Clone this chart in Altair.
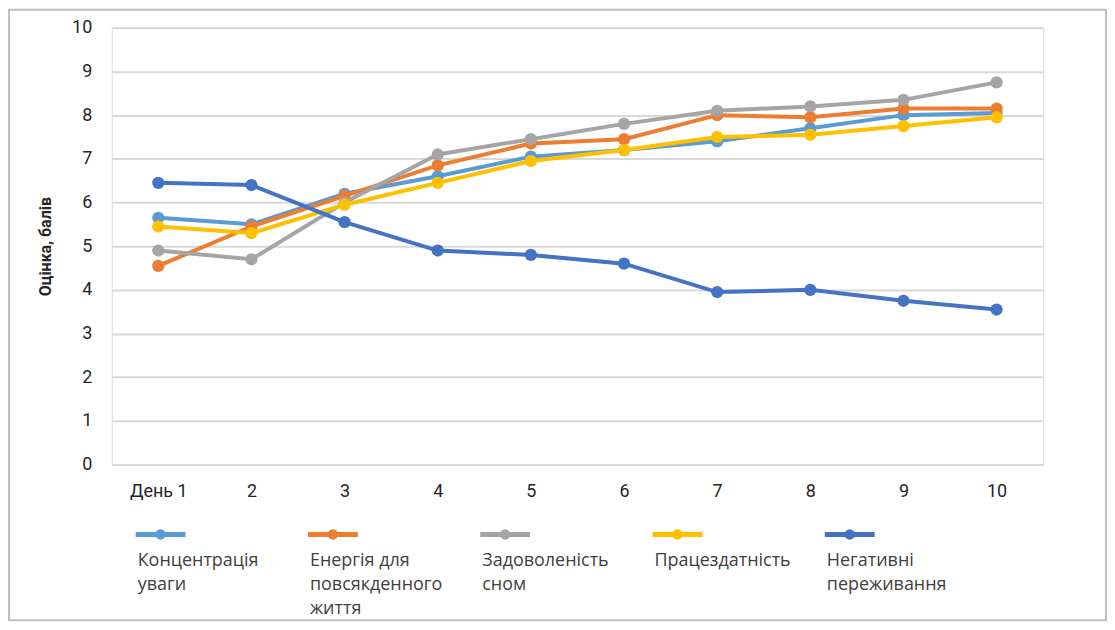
import altair as alt
import pandas as pd

days = ["День 1", "2", "3", "4", "5", "6", "7", "8", "9", "10"]
series = ["Концентрація уваги", "Енергія для повсякденного життя",
          "Задоволеність сном", "Працездатність", "Негативні переживання"]
legend_labels = ["Концентрація\nуваги", "Енергія для\nповсякденного\nжиття",
                 "Задоволеність\nсном", "Працездатність", "Негативні\nпереживання"]
colors = ["#5B9BD5", "#ED7D31", "#A5A5A5", "#FFC000", "#4472C4"]

concentration = [5.65, 5.5, 6.2, 6.6, 7.05, 7.2, 7.4, 7.7, 8.0, 8.05]
energy = [4.55, 5.45, 6.15, 6.85, 7.35, 7.45, 8.0, 7.95, 8.15, 8.15]
sleep = [4.9, 4.7, 6.0, 7.1, 7.45, 7.8, 8.1, 8.2, 8.35, 8.75]
workability = [5.45, 5.3, 5.95, 6.45, 6.95, 7.2, 7.5, 7.55, 7.75, 7.95]
negative = [6.45, 6.4, 5.55, 4.9, 4.8, 4.6, 3.95, 4.0, 3.75, 3.55]
y_ticks = [0, 1, 2, 3, 4, 5, 6, 7, 8, 9, 10]

all_vals = [concentration, energy, sleep, workability, negative]
rows = []
for s, vals in zip(series, all_vals):
    for d, v in zip(days, vals):
        rows.append({"day": d, "series": s, "value": v})
df = pd.DataFrame(rows)

leg = pd.DataFrame({"series": series, "label": legend_labels, "idx": list(range(len(series)))})
frame_df = pd.DataFrame({"a": [0]})

AXIS_FONT = "Roboto"
TEXT_FONT = "Open Sans"

color = alt.Color("series:N", scale=alt.Scale(domain=series, range=colors), legend=None)
x_enc = alt.X("day:N", sort=days, scale=alt.Scale(padding=0.5),
              axis=alt.Axis(title=None, labelAngle=0, ticks=False, domain=False, grid=False,
                            labelPadding=18, labelFont=AXIS_FONT, labelFontSize=18,
                            labelColor="#262626"))
y_enc = alt.Y("value:Q", scale=alt.Scale(domain=[0, 10], nice=False),
              axis=alt.Axis(values=y_ticks, title="Оцінка, балів", ticks=False, domain=False,
                            grid=True, gridColor="#D9D9D9", gridWidth=2,
                            labelPadding=20, labelFont=AXIS_FONT, labelFontSize=18,
                            labelColor="#262626", titleFont=AXIS_FONT, titleFontSize=16,
                            titleFontWeight="bold", titleColor="#262626", titlePadding=18))

layers = []
for i, s in enumerate(series):
    base = alt.Chart(df).transform_filter(alt.datum.series == s)
    if i == 0:
        line = base.mark_line(strokeWidth=4).encode(x=x_enc, y=y_enc, color=color)
    else:
        line = base.mark_line(strokeWidth=4).encode(x=alt.X("day:N", sort=days), y="value:Q", color=color)
    pts = base.mark_circle(size=150, opacity=1).encode(
        x=alt.X("day:N", sort=days), y="value:Q", color=color)
    layers += [line, pts]

main = alt.layer(*layers)

lx = alt.X("idx:Q", scale=alt.Scale(domain=[0, 4], range=[49, 49 + 4 * 172.75]), axis=None)
leg_rule = alt.Chart(leg).mark_rule(strokeWidth=5, xOffset=-25, x2Offset=25).encode(
    x=lx, x2="idx:Q", y=alt.value(508), color=color)
leg_pt = alt.Chart(leg).mark_circle(size=110, opacity=1).encode(
    x=lx, y=alt.value(508), color=color)
leg_txt = alt.Chart(leg).mark_text(lineBreak="\n", align="left", baseline="top", dx=-23,
                                   font=TEXT_FONT, fontSize=18, lineHeight=24,
                                   color="#404040").encode(
    x=lx, y=alt.value(526), text="label:N")
legend = alt.layer(leg_rule, leg_pt, leg_txt)

frame = alt.Chart(frame_df).mark_rect(fill="transparent", stroke="#BFBFBF", strokeWidth=2).encode(
    x=alt.value(-103), x2=alt.value(997), y=alt.value(-18), y2=alt.value(594))

chart = alt.layer(frame, main, legend).resolve_scale(x="independent").properties(
    width=934, height=438,
    autosize=alt.AutoSizeParams(type="none"),
    padding={"left": 104, "top": 19, "right": 64, "bottom": 157},
).configure_view(stroke=None).configure(background="white")

chart.save("out.html", embed_options={"renderer": "svg", "actions": False})
